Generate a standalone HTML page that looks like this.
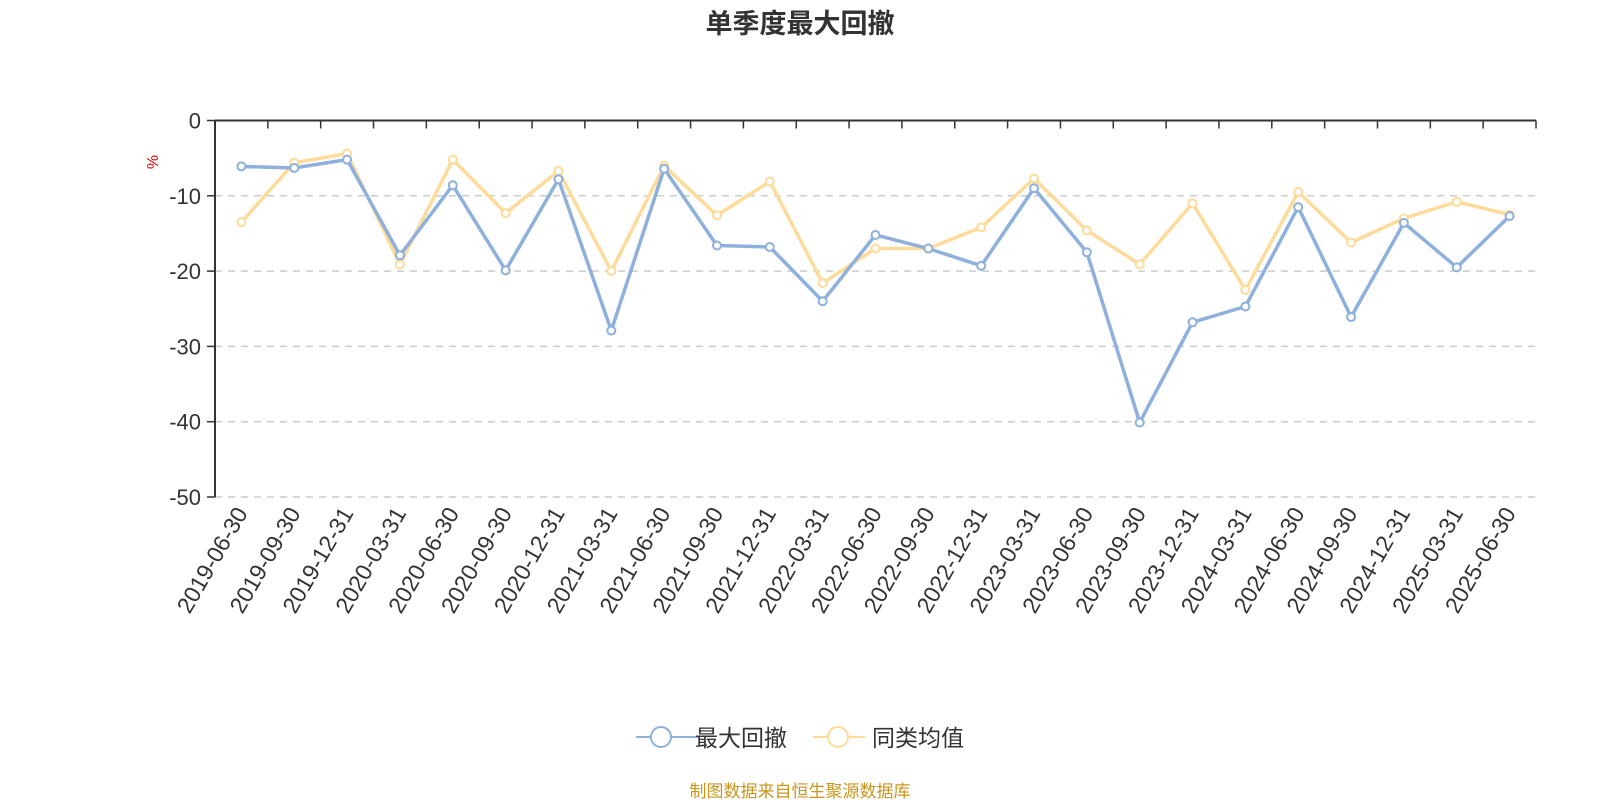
<!DOCTYPE html>
<html><head><meta charset="utf-8"><style>
body{margin:0;background:#fff;width:1600px;height:800px;overflow:hidden}
svg{font-family:"Liberation Sans","Noto Sans CJK SC",sans-serif}
</style></head><body>
<svg id="c" width="1600" height="800">
<text x="800" y="33" text-anchor="middle" font-size="27" font-weight="bold" fill="#333">单季度最大回撤</text>
<text transform="translate(158,162) rotate(-90)" text-anchor="middle" font-size="16" fill="#e00">%</text>
<g id="grid"></g><g id="axes"></g><g id="series"></g>
<g>
<g><line x1="636" y1="737" x2="700" y2="737" stroke="#8eb0dc" stroke-width="2"/><circle cx="661" cy="737" r="10" fill="#fff" stroke="#8eb0dc" stroke-width="2"/><text x="695" y="746" font-size="23" fill="#333">最大回撤</text></g>
<g><line x1="813" y1="737" x2="865" y2="737" stroke="#fddb9a" stroke-width="2"/><circle cx="838" cy="737" r="10" fill="#fff" stroke="#fddb9a" stroke-width="2"/><text x="872" y="746" font-size="23" fill="#333">同类均值</text></g>
</g>
<text x="800" y="797" text-anchor="middle" font-size="17" fill="#c8961e">制图数据来自恒生聚源数据库</text>
</svg>
<script>
const categories=["2019-06-30","2019-09-30","2019-12-31","2020-03-31","2020-06-30","2020-09-30","2020-12-31","2021-03-31","2021-06-30","2021-09-30","2021-12-31","2022-03-31","2022-06-30","2022-09-30","2022-12-31","2023-03-31","2023-06-30","2023-09-30","2023-12-31","2024-03-31","2024-06-30","2024-09-30","2024-12-31","2025-03-31","2025-06-30"];
const maxDrawdown=[-6.1,-6.3,-5.2,-17.9,-8.6,-19.9,-7.8,-27.9,-6.4,-16.6,-16.8,-24.0,-15.2,-17.0,-19.3,-9.0,-17.5,-40.1,-26.8,-24.7,-11.5,-26.1,-13.6,-19.5,-12.7];
const peerAverage=[-13.5,-5.6,-4.4,-19.1,-5.2,-12.3,-6.7,-20.0,-6.0,-12.6,-8.1,-21.6,-17.0,-17.0,-14.2,-7.7,-14.6,-19.1,-11.0,-22.5,-9.5,-16.2,-13.0,-10.8,-12.5];
const yTicks=[0,-10,-20,-30,-40,-50];
const NS='http://www.w3.org/2000/svg';
const L=215,R=1536,T=120.5,B=497;
const band=(R-L)/categories.length;
const xs=i=>L+band*(i+0.5);
const ys=v=>T+(0-v)/50*(B-T);
function mk(tag,attrs,parent){const e=document.createElementNS(NS,tag);for(const k in attrs)e.setAttribute(k,attrs[k]);parent.appendChild(e);return e;}
const grid=document.getElementById('grid'),axes=document.getElementById('axes'),ser=document.getElementById('series');
yTicks.forEach(t=>{
 if(t!==0){const g=mk('line',{x1:L,x2:R,y1:ys(t),y2:ys(t),stroke:'#ccc','stroke-width':1.5,'stroke-dasharray':'7,6'},grid);
 
 }
 const tk=mk('line',{x1:L-8,x2:L,y1:ys(t),y2:ys(t),stroke:'#333','stroke-width':1.5},axes);
 
 
 const lb=mk('text',{x:L-14,y:ys(t)+8,'text-anchor':'end','font-size':22,fill:'#333'},axes);
 lb.textContent=String(t);
 
 
});
const ya=mk('line',{x1:L,x2:L,y1:T,y2:B,stroke:'#333','stroke-width':2},axes);


const xa=mk('line',{x1:L,x2:R,y1:T,y2:T,stroke:'#333','stroke-width':2},axes);


for(let i=0;i<=categories.length;i++){
 const t=mk('line',{x1:L+band*i,x2:L+band*i,y1:T,y2:T+8,stroke:'#333','stroke-width':1.5},axes);
 
 
}
categories.forEach((c,i)=>{
 const x=xs(i)+7,y=B+16;
 const t=mk('text',{transform:`translate(${x},${y}) rotate(-60)`,'text-anchor':'end','font-size':23,fill:'#333'},axes);
 t.textContent=c;
 
 
});
function drawSeries(data,color,name){
 const g=mk('g',{},ser);
 
 
 const p=mk('polyline',{points:data.map((v,i)=>xs(i)+','+ys(v)).join(' '),fill:'none',stroke:color,'stroke-width':3.5,'stroke-linejoin':'round'},g);
 
 
 data.forEach((v,i)=>{
  const c=mk('circle',{cx:xs(i),cy:ys(v),r:4,fill:'#fff',stroke:color,'stroke-width':2},g);
  
  
 });
}
drawSeries(peerAverage,'#fddb9a','peer-average-series');
drawSeries(maxDrawdown,'#8eb0dc','max-drawdown-series');
</script>
</body></html>
